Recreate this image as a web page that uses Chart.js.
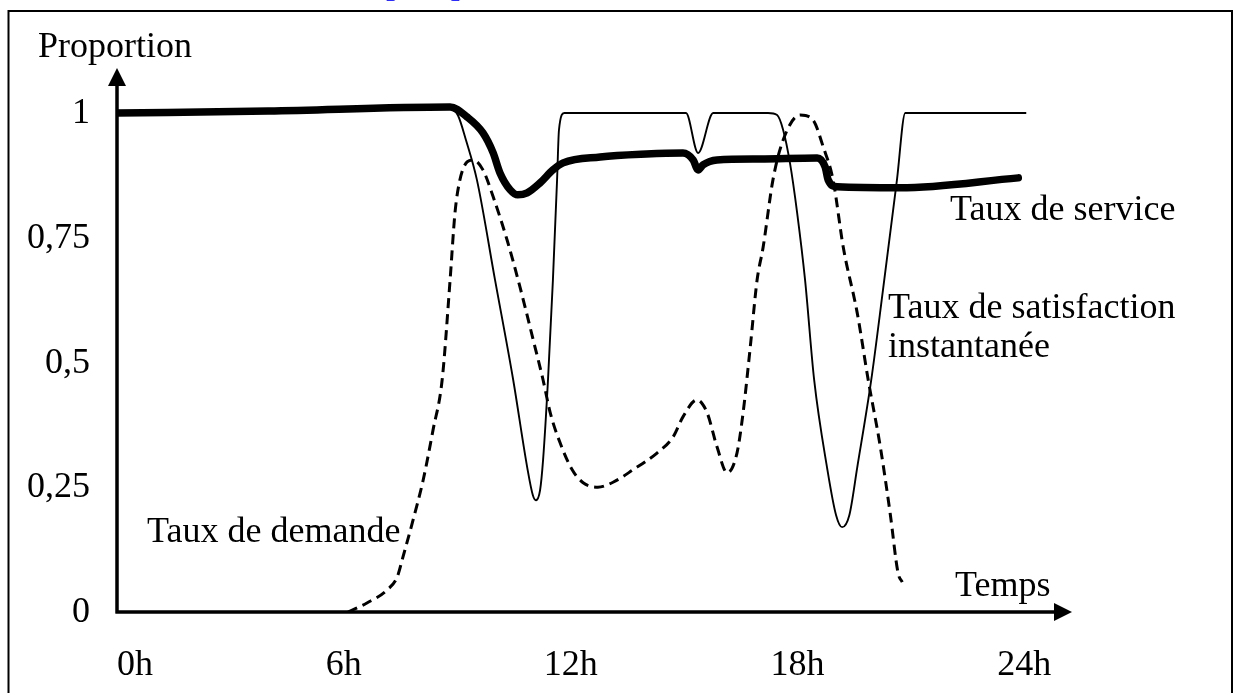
<!DOCTYPE html>
<html>
<head>
<meta charset="utf-8">
<script src="https://cdn.jsdelivr.net/npm/chart.js@4/dist/chart.umd.min.js"></script>
<style>
    body { margin: 0; background: #fff; }
    .graph-container { width: 1241px; height: 693px; position: relative; }
</style>
</head>
<body>
<div class="graph-container" id="graph"><canvas id="graph-canvas"></canvas></div>
<script>
// waarden (heures / proportion)
var serviceHeures = [0, 4, 8.81, 9.26, 9.68, 9.95, 10.13, 10.4, 10.6, 10.85, 11.19, 11.53, 11.8, 12.78, 14.0, 14.97, 15.24, 15.37, 15.5, 15.87, 17.0, 18.52, 18.73, 18.81, 19.05, 20.71, 23.84]
var serviceValeurs = [1.0, 1.004, 1.012, 0.992, 0.96, 0.92, 0.88, 0.846, 0.836, 0.84, 0.86, 0.886, 0.9, 0.912, 0.918, 0.92, 0.906, 0.886, 0.896, 0.906, 0.908, 0.91, 0.892, 0.866, 0.852, 0.85, 0.87]

var satisfactionHeures = [8.81, 9.02, 9.23, 9.52, 10.0, 10.48, 10.85, 11.0, 11.08, 11.19, 11.27, 11.4, 11.53, 11.64, 11.69, 11.83, 15.05, 15.37, 15.77, 17.22, 17.46, 17.62, 17.8, 17.99, 18.2, 18.44, 18.78, 19.02, 19.18, 19.37, 19.58, 19.95, 20.26, 20.63, 20.85, 24.05]
var satisfactionValeurs = [1.012, 0.995, 0.946, 0.866, 0.665, 0.465, 0.29, 0.234, 0.224, 0.244, 0.305, 0.465, 0.665, 0.866, 0.966, 1.0, 1.0, 0.92, 1.0, 1.0, 0.996, 0.966, 0.9, 0.8, 0.665, 0.465, 0.29, 0.194, 0.17, 0.194, 0.29, 0.465, 0.645, 0.866, 1.0, 1.0]

var demandeHeures = [6.11, 6.61, 7.14, 7.41, 7.57, 7.83, 8.1, 8.36, 8.6, 8.81, 8.94, 9.07, 9.26, 9.42, 9.68, 9.95, 10.32, 10.66, 11.01, 11.27, 11.46, 11.72, 12.04, 12.33, 12.72, 13.12, 13.65, 14.29, 14.71, 14.97, 15.34, 15.61, 15.87, 16.14, 16.4, 16.56, 16.75, 16.93, 17.09, 17.35, 17.62, 18.07, 18.41, 18.68, 18.94, 19.21, 19.58, 19.87, 20.19, 20.45, 20.66, 20.77]
var demandeValeurs = [0, 0.018, 0.044, 0.07, 0.112, 0.184, 0.265, 0.365, 0.465, 0.665, 0.8, 0.866, 0.902, 0.906, 0.886, 0.832, 0.745, 0.651, 0.545, 0.465, 0.399, 0.339, 0.285, 0.259, 0.25, 0.26, 0.285, 0.319, 0.351, 0.391, 0.425, 0.399, 0.331, 0.279, 0.319, 0.399, 0.531, 0.665, 0.731, 0.866, 0.946, 0.996, 0.986, 0.932, 0.866, 0.731, 0.599, 0.465, 0.331, 0.198, 0.078, 0.06]

var tickHeures = [0, 6, 12, 18, 24]
var tickHeuresLabels = ["0h", "6h", "12h", "18h", "24h"]
var tickProportions = [0, 0.25, 0.5, 0.75, 1]
var tickProportionsLabels = ["0", "0,25", "0,5", "0,75", "1"]

var police = "36px 'Liberation Serif', 'Times New Roman', serif"

function maakPunten(xs, ys) {
    var punten = []
    for (var i = 0; i < xs.length; i++) {
        punten.push({ x: xs[i], y: ys[i] })
    }
    return punten
}

function tekst(ctx, t, x, y, align) {
    ctx.textAlign = align || "left"
    ctx.fillText(t, x, y)
}

var assenPlugin = {
    id: "assen",
    beforeDatasetsDraw: function(chart) {
        var ctx = chart.ctx
        var xs = chart.scales.x
        var ys = chart.scales.y
        var x0 = xs.getPixelForValue(0)
        var y0 = ys.getPixelForValue(0)
        var top = chart.chartArea.top
        var right = chart.chartArea.right
        ctx.save()
        ctx.fillStyle = "#000"
        ctx.strokeStyle = "#000"
        ctx.lineWidth = 3.5
        ctx.beginPath()
        ctx.moveTo(x0, y0 + 1.5)
        ctx.lineTo(x0, top + 15)
        ctx.moveTo(x0 - 1.5, y0)
        ctx.lineTo(right - 15, y0)
        ctx.stroke()
        // pijlpunten
        ctx.beginPath()
        ctx.moveTo(x0, top)
        ctx.lineTo(x0 - 9, top + 18)
        ctx.lineTo(x0 + 9, top + 18)
        ctx.closePath()
        ctx.fill()
        ctx.beginPath()
        ctx.moveTo(right, y0)
        ctx.lineTo(right - 18, y0 - 9)
        ctx.lineTo(right - 18, y0 + 9)
        ctx.closePath()
        ctx.fill()
        ctx.restore()
    },
    afterDraw: function(chart) {
        var ctx = chart.ctx
        var xs = chart.scales.x
        var ys = chart.scales.y
        ctx.save()
        // kader
        ctx.strokeStyle = "#000"
        ctx.lineWidth = 2
        ctx.beginPath()
        ctx.moveTo(8.5, 693)
        ctx.lineTo(8.5, 11)
        ctx.lineTo(1232, 11)
        ctx.lineTo(1232, 693)
        ctx.stroke()

        ctx.font = police
        ctx.fillStyle = "#2b2bff"
        tekst(ctx, "[109]", 384, -4)

        ctx.fillStyle = "#000"
        ctx.textBaseline = "alphabetic"
        for (var i = 0; i < tickProportions.length; i++) {
            tekst(ctx, tickProportionsLabels[i], 90, ys.getPixelForValue(tickProportions[i]) + 10, "right")
        }
        for (var j = 0; j < tickHeures.length; j++) {
            var px = xs.getPixelForValue(tickHeures[j])
            if (j == 0) {
                tekst(ctx, tickHeuresLabels[j], px, 675, "left")
            } else {
                tekst(ctx, tickHeuresLabels[j], px, 675, "center")
            }
        }
        tekst(ctx, "Proportion", 38, 57)
        tekst(ctx, "Temps", 955, 596)
        tekst(ctx, "Taux de service", 950, 220)
        tekst(ctx, "Taux de satisfaction", 888, 318)
        tekst(ctx, "instantanée", 888, 357)
        tekst(ctx, "Taux de demande", 147, 542)
        ctx.restore()
    }
}

function createGraph(id) {
    var ctx = document.getElementById(id)
    var myLineChart = new Chart(ctx, {
        type: "line",
        data: {
            datasets: [{
                label: "Taux de demande",
                data: maakPunten(demandeHeures, demandeValeurs),
                borderColor: "#000",
                borderWidth: 3,
                borderDash: [10, 6],
                pointRadius: 0,
                cubicInterpolationMode: "monotone",
                fill: false
            }, {
                label: "Taux de satisfaction instantanée",
                data: maakPunten(satisfactionHeures, satisfactionValeurs),
                borderColor: "#000",
                borderWidth: 1.9,
                pointRadius: 0,
                cubicInterpolationMode: "monotone",
                fill: false
            }, {
                label: "Taux de service",
                data: maakPunten(serviceHeures, serviceValeurs),
                borderColor: "#000",
                borderWidth: 7.5,
                borderCapStyle: "round",
                borderJoinStyle: "round",
                pointRadius: 0,
                cubicInterpolationMode: "monotone",
                fill: false
            }]
        },
        options: {
            responsive: true,
            maintainAspectRatio: false,
            animation: false,
            layout: { padding: { left: 117, right: 169, top: 68, bottom: 81 } },
            plugins: { legend: { display: false }, tooltip: { enabled: false } },
            scales: {
                x: { type: "linear", min: 0, max: 25.26, display: false },
                y: { type: "linear", min: 0, max: 1.0902, display: false }
            }
        },
        plugins: [assenPlugin]
    })
    return myLineChart
}

createGraph("graph-canvas")
</script>
</body>
</html>
